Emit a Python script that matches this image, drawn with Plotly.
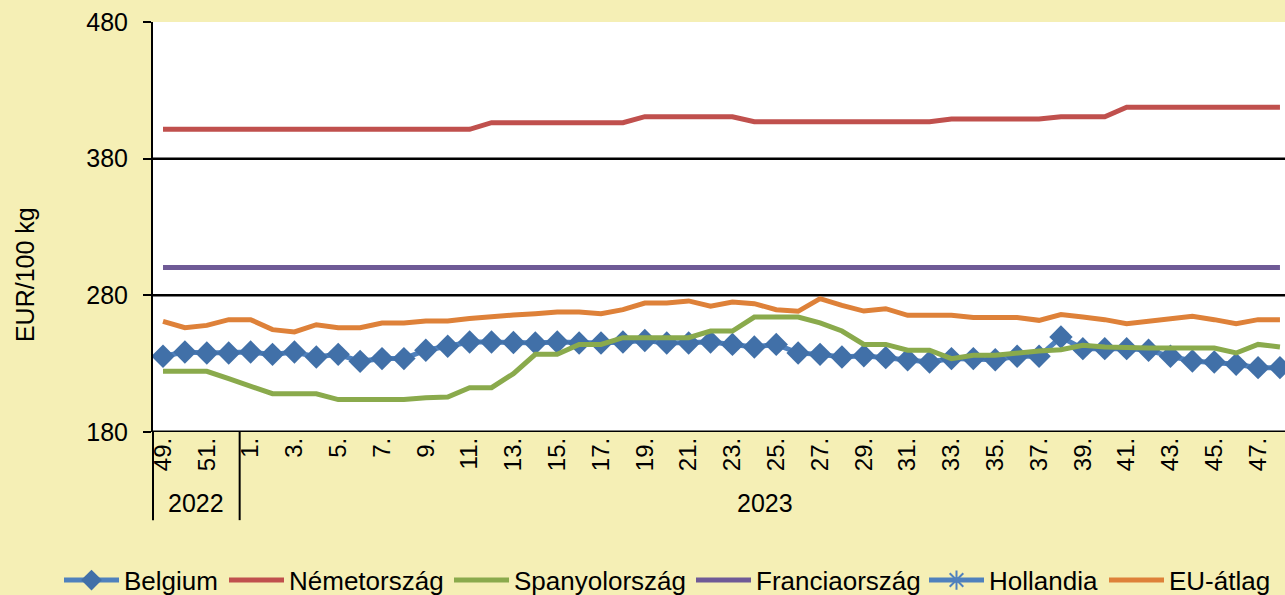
import plotly.graph_objects as go

weeks = ["49.", "50.", "51.", "52."] + [f"{w}." for w in range(1, 49)]
years = ["2022", "2023"]

belgium = [235.4, 238.5, 237.8, 237.8, 238.5, 236.8, 238.5, 234.9, 236.8, 231.7,
           233.7, 233.7, 239.8, 242.7, 245.9, 245.9, 245.5, 245.1, 245.9, 245.1,
           245.1, 245.9, 247.0, 245.1, 245.1, 245.9, 244.1, 242.2, 244.1, 237.8,
           236.8, 234.9, 235.8, 234.4, 232.9, 231.2, 233.7, 233.7, 232.9, 235.4,
           235.4, 249.5, 241.0, 241.0, 241.0, 239.8, 235.4, 232.0, 231.2, 229.5,
           227.1, 227.1]
nemetorszag = [401.5] * 15 + [406.3] * 7 + [410.7] * 5 + [407.1] * 9 + [409.0] * 5 + [410.7] * 3 + [417.6] * 8
spanyolorszag = [224.4, 224.4, 224.4, 219.0, 213.4, 208.0, 208.0, 208.0, 203.7, 203.7,
                 203.7, 203.7, 205.0, 205.6, 212.4, 212.4, 222.7, 236.8, 236.8, 244.1,
                 244.1, 249.0, 249.0, 249.0, 249.0, 253.9, 253.9, 264.1, 264.1, 264.1,
                 259.8, 253.9, 244.1, 244.1, 239.8, 239.8, 233.7, 236.1, 236.1, 237.8,
                 239.3, 240.2, 243.4, 242.2, 241.5, 241.5, 241.5, 241.5, 241.5, 237.8,
                 244.1, 242.2]
franciaorszag = [300.3] * 52
hollandia = [None] * 52
eu_atlag = [261.0, 256.3, 258.0, 262.2, 262.2, 254.9, 253.2, 258.5, 256.3, 256.3,
            259.8, 259.8, 261.2, 261.2, 263.0, 264.6, 265.6, 266.6, 267.8, 267.8,
            266.6, 269.5, 274.4, 274.4, 275.9, 272.0, 275.1, 273.9, 269.5, 268.3,
            277.6, 272.7, 268.5, 270.2, 265.4, 265.4, 265.4, 263.7, 263.7, 263.7,
            261.7, 265.9, 264.1, 262.2, 259.3, 261.2, 262.9, 264.6, 262.2, 259.3,
            262.2, 262.2]
y_ticks = [180, 280, 380, 480]
grid_vals = [280, 380]

x = list(range(len(weeks)))
n2022 = 4

FONT = "Liberation Sans, Arial, sans-serif"
LW = 5
W, H = 1285, 595
# legend entry left edges (px) for each series
legend_px = [59, 224, 449, 691, 924, 1104]

fig = go.Figure()

fig.add_trace(go.Scatter(x=x, y=belgium, name="Belgium", mode="lines+markers",
                         line=dict(color="#4F81BD", width=LW), legend="legend",
                         marker=dict(symbol="diamond", size=18, color="#4170A8")))
fig.add_trace(go.Scatter(x=x, y=nemetorszag, name="Németország", mode="lines",
                         line=dict(color="#C0504D", width=LW), legend="legend2"))
fig.add_trace(go.Scatter(x=x, y=spanyolorszag, name="Spanyolország", mode="lines",
                         line=dict(color="#8AAA4C", width=LW), legend="legend3"))
fig.add_trace(go.Scatter(x=x, y=franciaorszag, name="Franciaország", mode="lines",
                         line=dict(color="#6F5A96", width=LW), legend="legend4"))
fig.add_trace(go.Scatter(x=x, y=hollandia, name="Hollandia", mode="lines+markers",
                         line=dict(color="#4F81BD", width=LW), legend="legend5",
                         marker=dict(symbol="asterisk-open", size=16,
                                     line=dict(color="#4BACC6", width=2))))
fig.add_trace(go.Scatter(x=x, y=eu_atlag, name="EU-átlag", mode="lines",
                         line=dict(color="#DE8139", width=LW), legend="legend6"))

tickvals = x[::2]
ticktext = [weeks[i] for i in tickvals]

legends = {}
for i, px in enumerate(legend_px):
    key = "legend" if i == 0 else f"legend{i + 1}"
    legends[key] = dict(orientation="h", xref="container", yref="container",
                        x=px / W, xanchor="left", y=0.025, yanchor="middle",
                        font=dict(family=FONT, size=26), itemwidth=55,
                        bgcolor="rgba(0,0,0,0)", borderwidth=0)

fig.update_layout(
    width=W, height=H,
    margin=dict(l=153, r=0, t=22, b=163),
    paper_bgcolor="#F5EFB5",
    plot_bgcolor="#FFFFFF",
    font=dict(family=FONT, size=25, color="#000000"),
    showlegend=True,
    xaxis=dict(range=[-0.457, 51.23], tickmode="array", tickvals=tickvals,
               ticktext=ticktext, tickangle=-90, showgrid=False, zeroline=False,
               showline=False, ticks="", tickfont=dict(size=24)),
    yaxis=dict(range=[180, 480], tickmode="array", tickvals=y_ticks,
               showgrid=False, zeroline=False, showline=True,
               linecolor="#000000", linewidth=2, ticks="outside", ticklen=8,
               tickwidth=2, tickcolor="#000000", ticklabelstandoff=10,
               tickfont=dict(size=25)),
    **legends,
)

for g in grid_vals:
    fig.add_shape(type="line", xref="paper", yref="y", x0=0, x1=1, y0=g, y1=g,
                  line=dict(color="#000000", width=2.5), layer="below")
# bottom axis line
fig.add_shape(type="line", xref="paper", yref="y", x0=0, x1=1, y0=180, y1=180,
              line=dict(color="#000000", width=3))
# group separators
fig.add_shape(type="line", xref="paper", yref="paper", x0=0, x1=0, y0=0, y1=-0.215,
              line=dict(color="#000000", width=2))
fig.add_shape(type="line", xref="x", yref="paper", x0=n2022 - 0.5, x1=n2022 - 0.5,
              y0=0, y1=-0.215, line=dict(color="#000000", width=2))

fig.add_annotation(x=(n2022 - 1) / 2, y=-0.173, xref="x", yref="paper",
                   text=years[0], showarrow=False, font=dict(size=25),
                   yanchor="middle")
fig.add_annotation(x=(n2022 + len(weeks) - 1) / 2, y=-0.173, xref="x", yref="paper",
                   text=years[1], showarrow=False, font=dict(size=25),
                   yanchor="middle")
fig.add_annotation(x=-0.113, y=0.383, xref="paper", yref="paper", text="EUR/100 kg",
                   textangle=-90, showarrow=False, font=dict(size=25),
                   xanchor="center", yanchor="middle")

fig.write_html("out.html", config={"displayModeBar": False},
               post_script="document.body.style.margin='0';document.body.style.overflow='hidden';")
